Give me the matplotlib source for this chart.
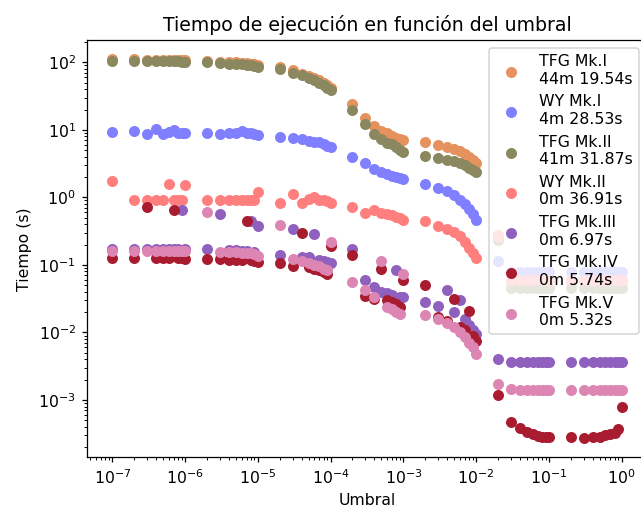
import numpy as np
import matplotlib.pyplot as plt

umbral = [1e-7, 2e-7, 3e-7, 4e-7, 5e-7, 6e-7, 7e-7, 8e-7, 9e-7,
          1e-6, 2e-6, 3e-6, 4e-6, 5e-6, 6e-6, 7e-6, 8e-6, 9e-6,
          1e-5, 2e-5, 3e-5, 4e-5, 5e-5, 6e-5, 7e-5, 8e-5, 9e-5,
          1e-4, 2e-4, 3e-4, 4e-4, 5e-4, 6e-4, 7e-4, 8e-4, 9e-4,
          1e-3, 2e-3, 3e-3, 4e-3, 5e-3, 6e-3, 7e-3, 8e-3, 9e-3,
          1e-2, 2e-2, 3e-2, 4e-2, 5e-2, 6e-2, 7e-2, 8e-2, 9e-2,
          1e-1, 2e-1, 3e-1, 4e-1, 5e-1, 6e-1, 7e-1, 8e-1, 9e-1,
          1.0]

tfg_mk1 = [111, 112, 109, 109, 109, 109, 108, 109, 107,
           106.5, 105.5, 102, 100, 100, 98, 97, 95, 93,
           90, 84, 76, 68, 63, 58, 54, 50, 46,
           41, 24, 15, 11.4, 9.7, 9.0, 8.2, 7.6, 7.2,
           7.0, 6.6, 6.0, 5.6, 5.25, 4.9, 4.4, 4.0, 3.6,
           3.25, 0.28, 0.058, 0.058, 0.058, 0.058, 0.058, 0.058, 0.058,
           0.058, 0.058, 0.058, 0.058, 0.058, 0.058, 0.058, 0.058, 0.058,
           0.058]

wy_mk1 = [9.3, 9.5, 8.7, 10.4, 8.8, 9.3, 9.9, 9.0, 9.0,
          9.0, 9.0, 8.8, 9.0, 9.1, 9.5, 9.1, 9.0, 8.8,
          8.4, 7.95, 7.7, 7.3, 6.9, 6.6, 6.5, 6.2, 5.8,
          5.6, 3.9, 3.18, 2.63, 2.34, 2.2, 2.09, 2.02, 1.92,
          1.87, 1.58, 1.40, 1.25, 1.08, 0.93, 0.80, 0.67, 0.56,
          0.46, 0.116, 0.078, 0.078, 0.078, 0.078, 0.078, 0.078, 0.078,
          0.078, 0.078, 0.078, 0.078, 0.078, 0.078, 0.078, 0.078, 0.078,
          0.078]

tfg_mk2 = [106, 106, 104, 104, 104, 104, 103, 104, 102,
           101, 100, 97, 95, 95, 93, 92, 90, 88,
           86, 79, 70, 64, 59, 54.4, 50, 45.7, 42.1,
           38.5, 19.8, 12.2, 8.6, 7.4, 6.4, 6.1, 5.5, 5.1,
           4.7, 4.1, 3.8, 3.6, 3.43, 3.22, 2.99, 2.77, 2.56,
           2.39, 0.23, 0.046, 0.046, 0.046, 0.046, 0.046, 0.046, 0.046,
           0.046, 0.046, 0.046, 0.046, 0.046, 0.046, 0.046, 0.046, 0.046,
           0.046]

wy_mk2 = [1.76, 0.92, 0.92, 0.92, 0.92, 1.58, 0.92, 0.92, 0.92,
          1.54, 0.92, 0.92, 0.92, 0.92, 0.92, 0.92, 0.92, 0.92,
          1.19, 0.84, 1.12, 0.82, 0.95, 1.0, 0.92, 0.93, 0.87,
          0.84, 0.71, 0.58, 0.64, 0.58, 0.57, 0.55, 0.52, 0.49,
          0.46, 0.45, 0.38, 0.34, 0.31, 0.27, 0.22, 0.18, 0.15,
          0.125, 0.26, 0.06, 0.06, 0.06, 0.06, 0.06, 0.06, 0.06,
          0.06, 0.06, 0.06, 0.06, 0.06, 0.06, 0.06, 0.06, 0.06,
          0.06]

tfg_mk3 = [0.17, 0.17, 0.17, 0.17, 0.17, 0.17, 0.17, 0.17, 0.65,
           0.17, 0.17, 0.57, 0.165, 0.165, 0.16, 0.16, 0.45, 0.155,
           0.38, 0.14, 0.34, 0.133, 0.13, 0.29, 0.12, 0.115, 0.11,
           0.108, 0.173, 0.06, 0.047, 0.04, 0.038, 0.036, 0.083, 0.034,
           0.033, 0.028, 0.025, 0.043, 0.020, 0.030, 0.016, 0.013, 0.011,
           0.0095, 0.0041, 0.0037, 0.0037, 0.0037, 0.0037, 0.0037, 0.0037, 0.0037,
           0.0037, 0.0037, 0.0037, 0.0037, 0.0037, 0.0037, 0.0037, 0.0037, 0.0037,
           0.0037]

tfg_mk4 = [0.125, 0.125, 0.73, 0.125, 0.125, 0.125, 0.65, 0.125, 0.125,
           0.122, 0.122, 0.121, 0.12, 0.12, 0.119, 0.44, 0.118, 0.116,
           0.112, 0.106, 0.098, 0.30, 0.092, 0.088, 0.083, 0.078, 0.074,
           0.19, 0.142, 0.035, 0.031, 0.087, 0.03, 0.028, 0.026, 0.024,
           0.06, 0.051, 0.017, 0.015, 0.031, 0.012, 0.011, 0.021, 0.009,
           0.0075, 0.00118, 0.000475, 0.000391, 0.000338, 0.000312, 0.000296, 0.000286, 0.000282,
           0.000279, 0.000285, 0.00027, 0.00028, 0.000287, 0.0003, 0.00031, 0.00032, 0.00037,
           0.00079]

tfg_mk5 = [0.16, 0.16, 0.16, 0.16, 0.16, 0.16, 0.16, 0.16, 0.16,
           0.16, 0.6, 0.155, 0.155, 0.153, 0.15, 0.15, 0.148, 0.145,
           0.137, 0.39, 0.123, 0.115, 0.105, 0.1, 0.095, 0.088, 0.083,
           0.217, 0.055, 0.042, 0.033, 0.116, 0.024, 0.022, 0.020, 0.019,
           0.074, 0.018, 0.016, 0.014, 0.012, 0.010, 0.0085, 0.007, 0.006,
           0.0048, 0.0017, 0.00146, 0.0014, 0.0014, 0.0014, 0.0014, 0.0014, 0.0014,
           0.0014, 0.0014, 0.0014, 0.0014, 0.0014, 0.0014, 0.0014, 0.0014, 0.0014,
           0.0014]

etiquetas = ["TFG Mk.I\n44m 19.54s", "WY Mk.I\n4m 28.53s", "TFG Mk.II\n41m 31.87s",
             "WY Mk.II\n0m 36.91s", "TFG Mk.III\n0m 6.97s", "TFG Mk.IV\n0m 5.74s",
             "TFG Mk.V\n0m 5.32s"]
tiempos = [tfg_mk1, wy_mk1, tfg_mk2, wy_mk2, tfg_mk3, tfg_mk4, tfg_mk5]
colores = ["#e5925e", "#7f7fff", "#8b875f", "#ff7f7f", "#9060bf", "#a91c30", "#dd86b4"]

fig = plt.figure(figsize=(641 / 113, 509 / 113), dpi=113)
ax = fig.add_axes([0.1354, 0.1014, 0.8741, 0.820])

for t, lab, c in zip(tiempos, etiquetas, colores):
    ax.scatter(umbral, t, color=c, label=lab)

ax.set_xscale('log')
ax.set_yscale('log')
ax.set_title('Tiempo de ejecución en función del umbral')
ax.set_xlabel('Umbral')
ax.set_ylabel('Tiempo (s)')
ax.legend(loc='upper right')

fig.savefig('out.png', dpi=113)
